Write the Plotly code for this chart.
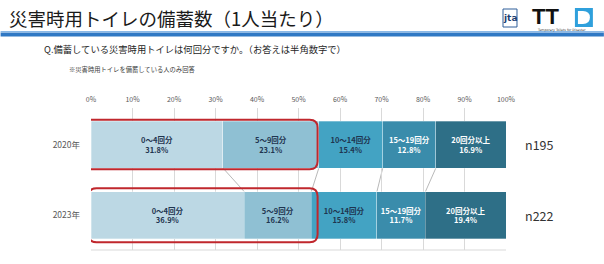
import plotly.graph_objects as go
import numpy as np

years = ["2020年", "2023年"]
categories = ["0～4回分", "5～9回分", "10～14回分", "15～19回分", "20回分以上"]
values_2020 = [31.8, 23.1, 15.4, 12.8, 16.9]
values_2023 = [36.9, 16.2, 15.8, 11.7, 19.4]
sample_sizes = ["n195", "n222"]
tick_vals = [0, 10, 20, 30, 40, 50, 60, 70, 80, 90, 100]
tick_text = ["0%", "10%", "20%", "30%", "40%", "50%", "60%", "70%", "80%", "90%", "100%"]

colors = ["#bcd8e4", "#8fc0d3", "#43a3c3", "#3a8cab", "#2e6f87"]
text_colors = ["#1f3550", "#1f3550", "#1f3550", "#ffffff", "#ffffff"]

W, H = 604, 264
ML, MR, MT, MB = 90.5, 98, 108, 14
PW = W - ML - MR
PH = H - MT - MB

def px(x):
    return (x - ML) / PW

def py(y):
    return (H - MB - y) / PH

FONT = "Noto Sans CJK JP"
ypos = [0, 1]
bar_w = 0.667
data = [values_2020, values_2023]
YR = (1.496, -0.518)

def ydata_to_py(v):
    pix = MT + (v - YR[1]) / (YR[0] - YR[1]) * PH
    return py(pix)

fig = go.Figure()
for i, cat in enumerate(categories):
    vals = [d[i] for d in data]
    fig.add_trace(go.Bar(
        y=ypos, x=vals, orientation="h", name=cat, width=bar_w,
        marker=dict(color=colors[i], line=dict(color="rgba(255,255,255,0.5)", width=0.6)),
        text=[f"<b>{cat}<br>{v:.1f}%</b>" for v in vals],
        textposition="inside", insidetextanchor="middle", textangle=0,
        textfont=dict(family=FONT, size=7.5, color=text_colors[i]),
        hoverinfo="skip",
    ))

shapes = []
cum20 = np.cumsum(values_2020)[:-1]
cum23 = np.cumsum(values_2023)[:-1]
for a, b in zip(cum20, cum23):
    shapes.append(dict(type="line", xref="x", yref="y", x0=a, y0=0 + bar_w / 2, x1=b, y1=1 - bar_w / 2,
                       line=dict(color="#a6a6a6", width=0.8), layer="below"))

xscale = PW / 100.0
yscale = PH / (YR[0] - YR[1])
def rounded(x0, x1, y0, y1, r):
    rx = r / xscale
    ry = r / yscale
    return (f"M {x0+rx},{y0} L {x1-rx},{y0} Q {x1},{y0} {x1},{y0+ry} "
            f"L {x1},{y1-ry} Q {x1},{y1} {x1-rx},{y1} L {x0+rx},{y1} "
            f"Q {x0},{y1} {x0},{y1-ry} L {x0},{y0+ry} Q {x0},{y0} {x0+rx},{y0} Z")
right = max(sum(values_2020[:2]), sum(values_2023[:2]))
shapes.append(dict(type="path", xref="x", yref="y", path=rounded(-2.0, right - 0.3, -0.35, 0.35, 8),
                   line=dict(color="#c0272d", width=2)))
shapes.append(dict(type="path", xref="x", yref="y", path=rounded(-0.6, right - 0.3, 0.62, 1.385, 8),
                   line=dict(color="#c0272d", width=2)))

shapes.append(dict(type="rect", xref="paper", yref="paper", x0=px(0), x1=px(W), y0=py(36.5), y1=py(32.5),
                   fillcolor="#2f78c4", line=dict(width=0)))
shapes.append(dict(type="rect", xref="paper", yref="paper", x0=px(0), x1=px(W), y0=py(32.5), y1=py(31),
                   fillcolor="#8ab8e6", line=dict(width=0)))
shapes.append(dict(type="rect", xref="paper", yref="paper", x0=px(575), x1=px(593), y0=py(27), y1=py(8),
                   fillcolor="#2fa0dc", line=dict(width=0)))
shapes.append(dict(type="path", xref="paper", yref="paper",
                   path=f"M {px(578)},{py(11)} L {px(583)},{py(11)} Q {px(590)},{py(11)} {px(590)},{py(17.5)} "
                        f"Q {px(590)},{py(24)} {px(583)},{py(24)} L {px(578)},{py(24)} Z",
                   fillcolor="#ffffff", line=dict(width=0)))
shapes.append(dict(type="rect", xref="paper", yref="paper", x0=px(503), x1=px(517), y0=py(27), y1=py(9),
                   fillcolor="#ffffff", line=dict(color="#2f5f9a", width=1)))

annotations = [
    dict(text="災害時用トイレの備蓄数（1人当たり）", x=px(6), y=py(18), xref="paper", yref="paper",
         xanchor="left", yanchor="middle", showarrow=False, font=dict(family=FONT, size=18.5, color="#1a1a1a")),
    dict(text="Q.備蓄している災害時用トイレは何回分ですか。（お答えは半角数字で）", x=px(41), y=py(49),
         xref="paper", yref="paper", xanchor="left", yanchor="middle", showarrow=False,
         font=dict(family=FONT, size=9.3, color="#262626")),
    dict(text="※災害時用トイレを備蓄している人のみ回答", x=px(66), y=py(70),
         xref="paper", yref="paper", xanchor="left", yanchor="middle", showarrow=False,
         font=dict(family=FONT, size=6.3, color="#404040")),
    dict(text="<b>jta</b>", x=px(510), y=py(18), xref="paper", yref="paper", xanchor="center", yanchor="middle",
         showarrow=False, font=dict(family="DejaVu Sans", size=9, color="#1d3f73")),
    dict(text="<b>TT</b>", x=px(530), y=py(16.5), xref="paper", yref="paper", xanchor="left", yanchor="middle",
         showarrow=False, font=dict(family="Liberation Sans", size=22, color="#111111")),
    dict(text="Temporary Toilets for Disaster", x=px(562), y=py(30), xref="paper", yref="paper",
         xanchor="center", yanchor="middle", showarrow=False,
         font=dict(family="DejaVu Sans", size=3.2, color="#333333")),
]
for yv, n in zip(ypos, sample_sizes):
    annotations.append(dict(text=n, x=px(523), y=ydata_to_py(yv), xref="paper", yref="paper",
                            xanchor="left", yanchor="middle",
                            showarrow=False, font=dict(family=FONT, size=12.5, color="#333333")))

fig.update_layout(
    width=W, height=H, barmode="stack", showlegend=False,
    margin=dict(l=ML, r=MR, t=MT, b=MB, pad=0),
    paper_bgcolor="white", plot_bgcolor="white",
    xaxis=dict(range=[0, 100], side="top", tickvals=tick_vals, ticktext=tick_text,
               showgrid=True, gridcolor="#d9d9d9", gridwidth=1, zeroline=False,
               tickfont=dict(family=FONT, size=7, color="#595959"), ticks="", ticklabelstandoff=4,
               fixedrange=True),
    yaxis=dict(range=list(YR), tickvals=ypos, ticktext=years, showgrid=False, zeroline=False,
               tickfont=dict(family=FONT, size=8.5, color="#595959"), ticks="", ticklabelstandoff=10,
               showline=False),
    shapes=shapes, annotations=annotations,
)
fig.add_shape(type="line", xref="paper", yref="paper", x0=0, x1=1, y0=0, y1=0,
              line=dict(color="#d9d9d9", width=1))
fig.write_html("out.html")
